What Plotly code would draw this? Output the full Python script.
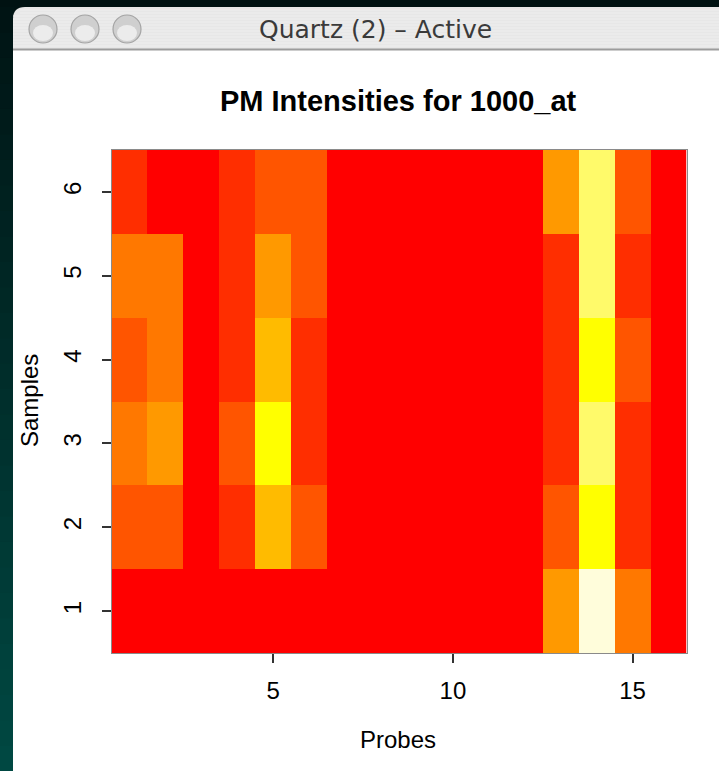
import plotly.graph_objects as go

# ---------------- data ----------------
probes = list(range(1, 17))
samples = list(range(1, 7))
x_tick_values = [5, 10, 15]
y_tick_values = [1, 2, 3, 4, 5, 6]

# intensity level (colour-bin index, 0 = lowest / red, 8 = highest / cream) per probe
sample_1 = [0, 0, 0, 0, 0, 0, 0, 0, 0, 0, 0, 0, 4, 8, 3, 0]
sample_2 = [2, 2, 0, 1, 5, 2, 0, 0, 0, 0, 0, 0, 2, 6, 1, 0]
sample_3 = [3, 4, 0, 2, 6, 1, 0, 0, 0, 0, 0, 0, 1, 7, 1, 0]
sample_4 = [2, 3, 0, 1, 5, 1, 0, 0, 0, 0, 0, 0, 1, 6, 2, 0]
sample_5 = [3, 3, 0, 1, 4, 2, 0, 0, 0, 0, 0, 0, 1, 7, 1, 0]
sample_6 = [1, 0, 0, 1, 2, 2, 0, 0, 0, 0, 0, 0, 4, 7, 2, 0]

heat_colors = ["#FF0000", "#FF2E00", "#FF5500", "#FF7800", "#FF9900",
               "#FFBB00", "#FFFF00", "#FFFA6A", "#FFFDDB"]

title_text = "PM Intensities for 1000_at"
window_title = "Quartz (2) \u2013 Active"

# ---------------- figure ----------------
W, H = 719, 771


def px(x):
    return x / W


def py(y):
    return 1 - y / H


z = [sample_1, sample_2, sample_3, sample_4, sample_5, sample_6]
n = len(heat_colors) - 1
colorscale = [[i / n, c] for i, c in enumerate(heat_colors)]

fig = go.Figure(go.Heatmap(
    x=probes, y=samples, z=z,
    zmin=0, zmax=n, colorscale=colorscale, showscale=False,
    hoverinfo="x+y+z",
))

shapes = []
# left dark strip gradient (desktop background)
top_c = (0x00, 0x14, 0x14)
bot_c = (0x00, 0x48, 0x42)
steps = 30
for i in range(steps):
    t = i / (steps - 1)
    c = tuple(int(round(top_c[k] + (bot_c[k] - top_c[k]) * t)) for k in range(3))
    y0 = 7 + (H - 7) * i / steps
    y1 = 7 + (H - 7) * (i + 1) / steps + 1
    shapes.append(dict(type="rect", xref="paper", yref="paper",
                       x0=0, x1=px(14), y0=py(y1), y1=py(y0),
                       fillcolor="rgb(%d,%d,%d)" % c, line_width=0, layer="below"))
# white window content
shapes.append(dict(type="rect", xref="paper", yref="paper",
                   x0=px(13), x1=1, y0=0, y1=py(50),
                   fillcolor="white", line_width=0, layer="below"))
# title bar with rounded corner
r = 12
x0t, y0t, y1t = 13, 7, 50
path = (f"M {px(x0t)},{py(y1t)} L {px(x0t)},{py(y0t + r)} "
        f"Q {px(x0t)},{py(y0t)} {px(x0t + r)},{py(y0t)} "
        f"L 1,{py(y0t)} L 1,{py(y1t)} Z")
shapes.append(dict(type="path", xref="paper", yref="paper", path=path,
                   fillcolor="#E7E7E7", line_width=0, layer="below"))
for yy in range(10, 48, 3):
    shapes.append(dict(type="line", xref="paper", yref="paper",
                       x0=px(20 if yy < 14 else 13), x1=1, y0=py(yy), y1=py(yy),
                       line=dict(color="#EFEFEF", width=1), layer="below"))
shapes.append(dict(type="line", xref="paper", yref="paper",
                   x0=px(13), x1=1, y0=py(49.5), y1=py(49.5),
                   line=dict(color="#9C9C9C", width=2), layer="below"))
# traffic-light buttons (graphite)
for cx in (43, 85, 127):
    cy, rr = 29, 14
    shapes.append(dict(type="circle", xref="paper", yref="paper",
                       x0=px(cx - rr), x1=px(cx + rr), y0=py(cy + rr), y1=py(cy - rr),
                       fillcolor="#CFCFCF", line=dict(color="#A4A4A4", width=1.2),
                       layer="below"))
    shapes.append(dict(type="circle", xref="paper", yref="paper",
                       x0=px(cx - 10), x1=px(cx + 10), y0=py(cy + 12), y1=py(cy - 4),
                       fillcolor="#ECECEC", line_width=0, layer="below"))

annotations = [
    dict(text="<b>" + title_text + "</b>", xref="paper", yref="paper",
         x=px(398), y=py(101), xanchor="center", yanchor="middle", showarrow=False,
         font=dict(family="Liberation Sans, Arial, sans-serif", size=29, color="black")),
    dict(text="Probes", xref="paper", yref="paper",
         x=px(398), y=py(739), xanchor="center", yanchor="middle", showarrow=False,
         font=dict(family="Liberation Sans, Arial, sans-serif", size=24, color="black")),
    dict(text="Samples", xref="paper", yref="paper", textangle=-90,
         x=px(29), y=py(400), xanchor="center", yanchor="middle", showarrow=False,
         font=dict(family="Liberation Sans, Arial, sans-serif", size=24, color="black")),
    dict(text=window_title, xref="paper", yref="paper",
         x=px(375), y=py(30), xanchor="center", yanchor="middle", showarrow=False,
         font=dict(family="DejaVu Sans, sans-serif", size=25, color="#3A3A3A")),
]

fig.update_layout(
    width=W, height=H,
    margin=dict(l=0, r=0, t=0, b=0),
    paper_bgcolor="#001212", plot_bgcolor="white",
    shapes=shapes, annotations=annotations,
    font=dict(family="Liberation Sans, Arial, sans-serif", size=24, color="black"),
    xaxis=dict(domain=[px(111.5), px(686.5)], range=[0.5, 16.5],
               tickvals=x_tick_values, ticktext=[str(v) for v in x_tick_values],
               ticks="outside", ticklen=9, tickwidth=1.5, tickcolor="#333",
               ticklabelstandoff=7,
               showgrid=False, zeroline=False,
               showline=True, linecolor="#8A8A8A", linewidth=1, mirror=True),
    yaxis=dict(domain=[py(653), py(150)], range=[0.5, 6.5],
               tickvals=y_tick_values, ticktext=[str(v) for v in y_tick_values],
               tickangle=-90,
               ticks="outside", ticklen=9, tickwidth=1.5, tickcolor="#333",
               ticklabelstandoff=11,
               showgrid=False, zeroline=False,
               showline=True, linecolor="#8A8A8A", linewidth=1, mirror=True),
    showlegend=False,
)

fig.write_html(
    "out.html",
    config={"displayModeBar": False},
    post_script="document.body.style.margin='0';"
                "document.body.style.overflow='hidden';"
                "document.body.style.background='#001212';",
)
